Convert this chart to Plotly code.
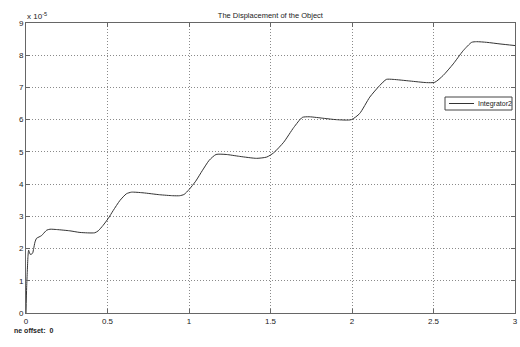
import plotly.graph_objects as go

# time (s) and displacement (units of 1e-5)
t = [0.0, 0.004, 0.008, 0.012, 0.016, 0.02, 0.026, 0.035, 0.041, 0.047, 0.055, 0.065,
     0.08, 0.095, 0.106, 0.127, 0.147, 0.188, 0.269, 0.331, 0.422, 0.443, 0.473, 0.504,
     0.535, 0.576, 0.616, 0.647, 0.718, 0.82, 0.90, 0.943, 0.97, 1.0, 1.041, 1.083,
     1.124, 1.166, 1.228, 1.311, 1.415, 1.477, 1.519, 1.581, 1.643, 1.695, 1.737, 1.83,
     1.904, 1.996, 2.047, 2.109, 2.17, 2.211, 2.252, 2.355, 2.457, 2.508, 2.559, 2.621,
     2.682, 2.734, 2.764, 2.826, 2.908, 3.0]
disp = [0.0, 0.8, 1.3, 1.75, 1.95, 1.9, 1.82, 1.83, 1.86, 2.0, 2.2, 2.32,
        2.36, 2.4, 2.46, 2.57, 2.6, 2.59, 2.55, 2.5, 2.49, 2.55, 2.72, 2.93,
        3.18, 3.49, 3.7, 3.75, 3.73, 3.67, 3.64, 3.64, 3.68, 3.83, 4.09, 4.43,
        4.74, 4.92, 4.92, 4.86, 4.8, 4.84, 4.97, 5.30, 5.76, 6.07, 6.09, 6.04,
        6.0, 6.0, 6.19, 6.7, 7.06, 7.25, 7.25, 7.2, 7.15, 7.16, 7.37, 7.73,
        8.14, 8.4, 8.42, 8.4, 8.35, 8.3]
series_name = "Integrator2"

x_ticks = [0, 0.5, 1, 1.5, 2, 2.5, 3]
x_tick_labels = ["0", "0.5", "1", "1.5", "2", "2.5", "3"]
y_ticks = [0, 1, 2, 3, 4, 5, 6, 7, 8, 9]
y_tick_labels = [str(v) for v in y_ticks]

FONT = "Liberation Sans, Arial, sans-serif"
W, H = 520, 347
L, R, T, B = 26, 5, 23, 34
PW, PH = W - L - R, H - T - B


def px(xp):
    return (xp - L) / PW


def py(yp):
    return (H - B - yp) / PH


fig = go.Figure()
fig.add_trace(go.Scatter(x=t, y=disp, mode="lines", name=series_name, showlegend=False,
                         line=dict(color="#333333", width=1, shape="spline", smoothing=0.6)))

axis_common = dict(showline=True, linecolor="#666666", linewidth=1, mirror="ticks",
                   ticks="inside", ticklen=4, tickcolor="#666666",
                   showgrid=True, gridcolor="#8a8a8a", griddash="1px,2px", gridwidth=1,
                   zeroline=False, automargin=False,
                   tickfont=dict(family=FONT, size=8, color="#222222"))

fig.update_xaxes(range=[0, 3], tickvals=x_ticks, ticktext=x_tick_labels, **axis_common)
fig.update_yaxes(range=[0, 9], tickvals=y_ticks, ticktext=y_tick_labels, **axis_common)

# legend box drawn as shapes
shapes = [
    dict(type="rect", xref="paper", yref="paper", x0=px(445), x1=px(512), y0=py(110), y1=py(97),
         line=dict(color="#444444", width=1), fillcolor="white", layer="above"),
    dict(type="line", xref="paper", yref="paper", x0=px(449), x1=px(474), y0=py(103.5), y1=py(103.5),
         line=dict(color="#333333", width=1), layer="above"),
]

fig.update_layout(
    width=W, height=H,
    margin=dict(l=L, r=R, t=T, b=B),
    paper_bgcolor="white", plot_bgcolor="white",
    title=dict(text="The Displacement of the Object", x=0.52, xanchor="center",
               y=1 - 15.5 / H, yanchor="middle",
               font=dict(family=FONT, size=7.5, color="#222222")),
    showlegend=False,
    shapes=shapes,
    annotations=[
        dict(text=series_name, xref="paper", yref="paper", x=px(476), y=py(103.5),
             xanchor="left", yanchor="middle", showarrow=False,
             font=dict(family=FONT, size=7, color="#222222")),
        dict(text="x 10<sup>-5</sup>", xref="paper", yref="paper", x=0.0, y=1.0,
             xanchor="left", yanchor="bottom", showarrow=False, xshift=-1, yshift=0,
             font=dict(family=FONT, size=8, color="#222222")),
        dict(text="<b>ne offset:</b>  <b>0</b>", xref="paper", yref="paper",
             x=px(12), y=py(330), xanchor="left", yanchor="middle",
             showarrow=False, font=dict(family=FONT, size=7, color="#222222")),
    ],
)

fig.write_html("out.html")
